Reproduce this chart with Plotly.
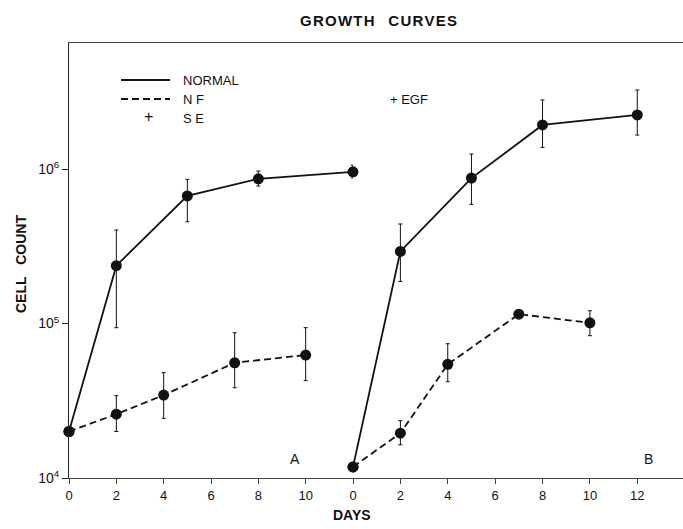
import plotly.graph_objects as go

# ---- data ----
a_days_normal = [0, 2, 5, 8, 12]
a_normal = [2.0e4, 2.37e5, 6.7e5, 8.65e5, 9.6e5]
a_normal_hi = [2.0e4, 4.03e5, 8.57e5, 9.7e5, 1.06e6]
a_normal_lo = [2.0e4, 9.4e4, 4.56e5, 7.76e5, 8.75e5]

a_days_nf = [0, 2, 4, 7, 10]
a_nf = [2.0e4, 2.59e4, 3.44e4, 5.57e4, 6.25e4]
a_nf_hi = [2.0e4, 3.41e4, 4.81e4, 8.71e4, 9.4e4]
a_nf_lo = [2.0e4, 2.0e4, 2.43e4, 3.84e4, 4.27e4]

b_days_normal = [0, 2, 5, 8, 12]
b_normal = [1.18e4, 2.93e5, 8.74e5, 1.93e6, 2.24e6]
b_normal_hi = [1.18e4, 4.41e5, 1.25e6, 2.8e6, 3.25e6]
b_normal_lo = [1.18e4, 1.87e5, 5.91e5, 1.38e6, 1.66e6]

b_days_nf = [0, 2, 4, 7, 10]
b_nf = [1.18e4, 1.95e4, 5.44e4, 1.15e5, 1.01e5]
b_nf_hi = [1.18e4, 2.35e4, 7.4e4, 1.22e5, 1.21e5]
b_nf_lo = [1.18e4, 1.64e4, 4.2e4, 1.08e5, 8.34e4]

a_ticks = [0, 2, 4, 6, 8, 10]
b_ticks = [0, 2, 4, 6, 8, 10, 12]
y_ticks = [1e4, 1e5, 1e6]
y_ticktext = ["10<sup>4</sup>", "10<sup>5</sup>", "10<sup>6</sup>"]

FONT = "Liberation Sans"
INK = "#111111"


def trace(x, y, hi, lo, dash, xaxis):
    return go.Scatter(
        x=x, y=y, xaxis=xaxis, yaxis="y", mode="lines+markers",
        line=dict(color=INK, width=1.8, dash=dash),
        marker=dict(color=INK, size=11),
        error_y=dict(type="data", symmetric=False,
                     array=[h - v for h, v in zip(hi, y)],
                     arrayminus=[v - l for v, l in zip(y, lo)],
                     color=INK, thickness=1, width=2),
        cliponaxis=False,
        showlegend=False, hoverinfo="skip",
    )


fig = go.Figure()
fig.add_trace(trace(a_days_normal, a_normal, a_normal_hi, a_normal_lo, "solid", "x"))
fig.add_trace(trace(a_days_nf, a_nf, a_nf_hi, a_nf_lo, "7px,4px", "x"))
fig.add_trace(trace(b_days_normal, b_normal, b_normal_hi, b_normal_lo, "solid", "x2"))
fig.add_trace(trace(b_days_nf, b_nf, b_nf_hi, b_nf_lo, "7px,4px", "x2"))

W, H = 683, 529
L, R, T, B = 69, 0, 43, 51
pw = W - L - R
split = 284 / pw

axis_common = dict(
    showline=True, linecolor="#444", linewidth=1, mirror=True,
    ticks="outside", ticklen=5, tickcolor="#444",
    showgrid=False, zeroline=False,
    tickfont=dict(family=FONT, size=13, color=INK),
)

fig.update_layout(
    width=W, height=H,
    margin=dict(l=L, r=R, t=T, b=B),
    paper_bgcolor="white", plot_bgcolor="white",
    font=dict(family=FONT, color=INK),
    xaxis=dict(domain=[0, split], range=[0, 12], tickvals=a_ticks,
               anchor="y", **axis_common),
    xaxis2=dict(domain=[split, 1], range=[0, 13.93], tickvals=b_ticks,
                anchor="y", **axis_common),
    yaxis=dict(type="log", range=[4, 6.816], tickvals=y_ticks, ticktext=y_ticktext,
               showline=True, linecolor="#222", linewidth=1, ticks="outside",
               ticklen=6, tickcolor="#222", showgrid=False, zeroline=False,
               tickfont=dict(family=FONT, size=14, color=INK), anchor="x"),
)

def px_x(x):
    return (x - L) / pw

def px_y(y):
    return (H - B - y) / (H - T - B)

ann = []
def text(x, y, s, size=12, bold=False, angle=0, xanchor="left"):
    ann.append(dict(xref="paper", yref="paper", x=px_x(x), y=px_y(y),
                    text=("<b>%s</b>" % s) if bold else s, showarrow=False,
                    xanchor=xanchor, yanchor="middle", textangle=angle,
                    font=dict(family=FONT, size=size, color=INK)))

text(378, 21, "G R O W T H&nbsp;&nbsp;&nbsp; C U R V E S".replace(" ", "\u200a"), size=15, bold=True, xanchor="center")
text(352, 515, "DAYS", size=14, bold=True, xanchor="center")
text(21, 264, "CELL&nbsp;&nbsp;&nbsp;COUNT", size=14, bold=True, angle=-90, xanchor="center")
text(181, 80, "NORMAL", size=13)
text(181, 99, "N F", size=13)
text(181, 118, "S E", size=13)
text(148, 117, "+", size=16, xanchor="center")
text(388, 99, "+ EGF", size=13)
text(295, 459, "A", size=14, xanchor="center")
text(648, 459, "B", size=14, xanchor="center")
fig.update_layout(annotations=ann)

fig.add_shape(type="line", xref="paper", yref="paper",
              x0=px_x(121), x1=px_x(170), y0=px_y(80), y1=px_y(80),
              line=dict(color=INK, width=1.8))
fig.add_shape(type="line", xref="paper", yref="paper",
              x0=px_x(121), x1=px_x(170), y0=px_y(99), y1=px_y(99),
              line=dict(color=INK, width=1.8, dash="7px,4px"))

fig.write_html("out.html", config={"displayModeBar": False},
               post_script="document.body.style.margin='0';")
